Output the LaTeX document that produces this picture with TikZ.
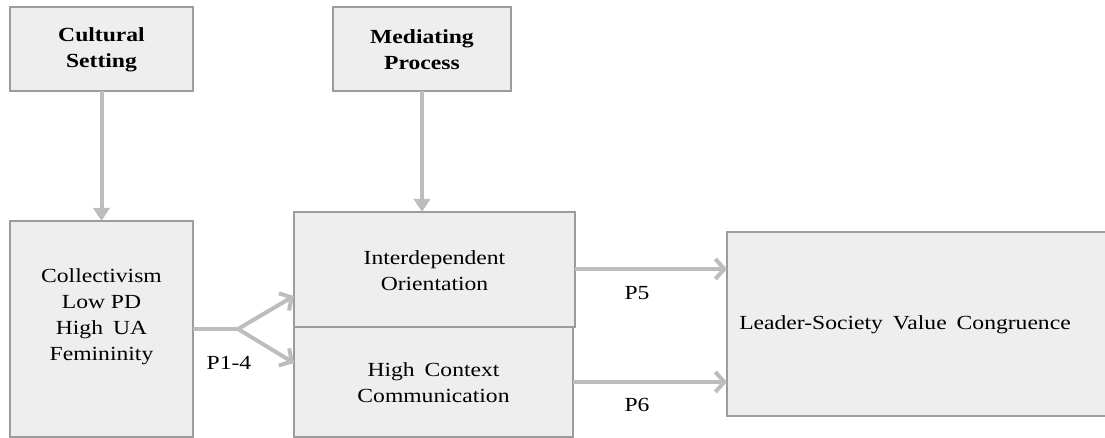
\documentclass[tikz,border=0pt]{standalone}
\usepackage{fontspec}
\setmainfont{Liberation Serif}[FakeStretch=1.18]
\usetikzlibrary{arrows.meta,calc}
\definecolor{boxfill}{HTML}{EEEEEE}
\definecolor{boxline}{HTML}{9C9C9C}
\definecolor{arrcol}{HTML}{BDBDBD}
\begin{document}
\begin{tikzpicture}[x=1pt,y=-1pt,
  box/.style={draw=boxline,fill=boxfill,line width=2.2pt,inner sep=0pt,outer sep=0pt},
  txt/.style={align=center,font=\fontsize{20}{26}\selectfont,inner sep=0pt},
  head/.style={align=center,font=\fontsize{20}{26}\selectfont\bfseries,inner sep=0pt},
  lbl/.style={font=\fontsize{20}{26}\selectfont,inner sep=0pt},
  downarr/.style={draw=arrcol,line width=4pt,-{Triangle[length=13pt,width=16pt]}},
  sidearr/.style={draw=arrcol,line width=4pt,-{Straight Barb[length=9pt,width=20pt]}}]
\useasboundingbox (0,0) rectangle (1105,438);
\begin{scope}
\clip (0,0) rectangle (1105,438);
% boxes
\node[box,minimum width=183pt,minimum height=84pt] (cult) at (101.5,49) {};
\node[head] (culttxt) at (101.5,50) {Cultural\\Setting};
\node[box,minimum width=178pt,minimum height=84pt] (med) at (422,49) {};
\node[head] (medtxt) at (422,50) {Mediating\\Process};
\node[box,minimum width=183pt,minimum height=216pt] (coll) at (101.5,329) {};
\node[txt] (colltxt) at (101.5,317) {Collectivism\\Low PD\\High\hspace{0.5em}UA\\Femininity};
\node[box,minimum width=281pt,minimum height=115pt] (inter) at (434.5,269.5) {};
\node[txt] (intertxt) at (434.5,271) {Interdependent\\Orientation};
\node[box,minimum width=279pt,minimum height=110pt] (hc) at (433.5,382) {};
\node[txt] (hctxt) at (433.5,383) {High\hspace{0.5em}Context\\Communication};
\node[box,minimum width=385pt,minimum height=184pt] (lead) at (919.5,324) {};
\node[txt] (leadtxt) at (905,325) {Leader-Society\hspace{0.5em}Value\hspace{0.5em}Congruence};
% connectors
\draw[downarr] (cult.south) -- (coll.north);
\draw[downarr] (med.south) -- (med.south |- inter.north);
\coordinate (jn) at (238,329);
\coordinate (b1) at (294,296);
\coordinate (b2) at (294,363);
\draw[draw=arrcol,line width=4pt] (coll.east |- jn) -- (jn);
\draw[sidearr] (jn) -- (b1);
\draw[sidearr] (jn) -- (b2);
\coordinate (p5s) at (575,269);
\coordinate (p6s) at (573,382);
\draw[sidearr] (p5s) -- (p5s -| lead.west);
\draw[sidearr] (p6s) -- (p6s -| lead.west);
% labels
\node[lbl] (l14) at (229,363) {P1-4};
\node[lbl] (l5) at (637,293) {P5};
\node[lbl] (l6) at (637,405) {P6};
\end{scope}
\end{tikzpicture}
\end{document}
